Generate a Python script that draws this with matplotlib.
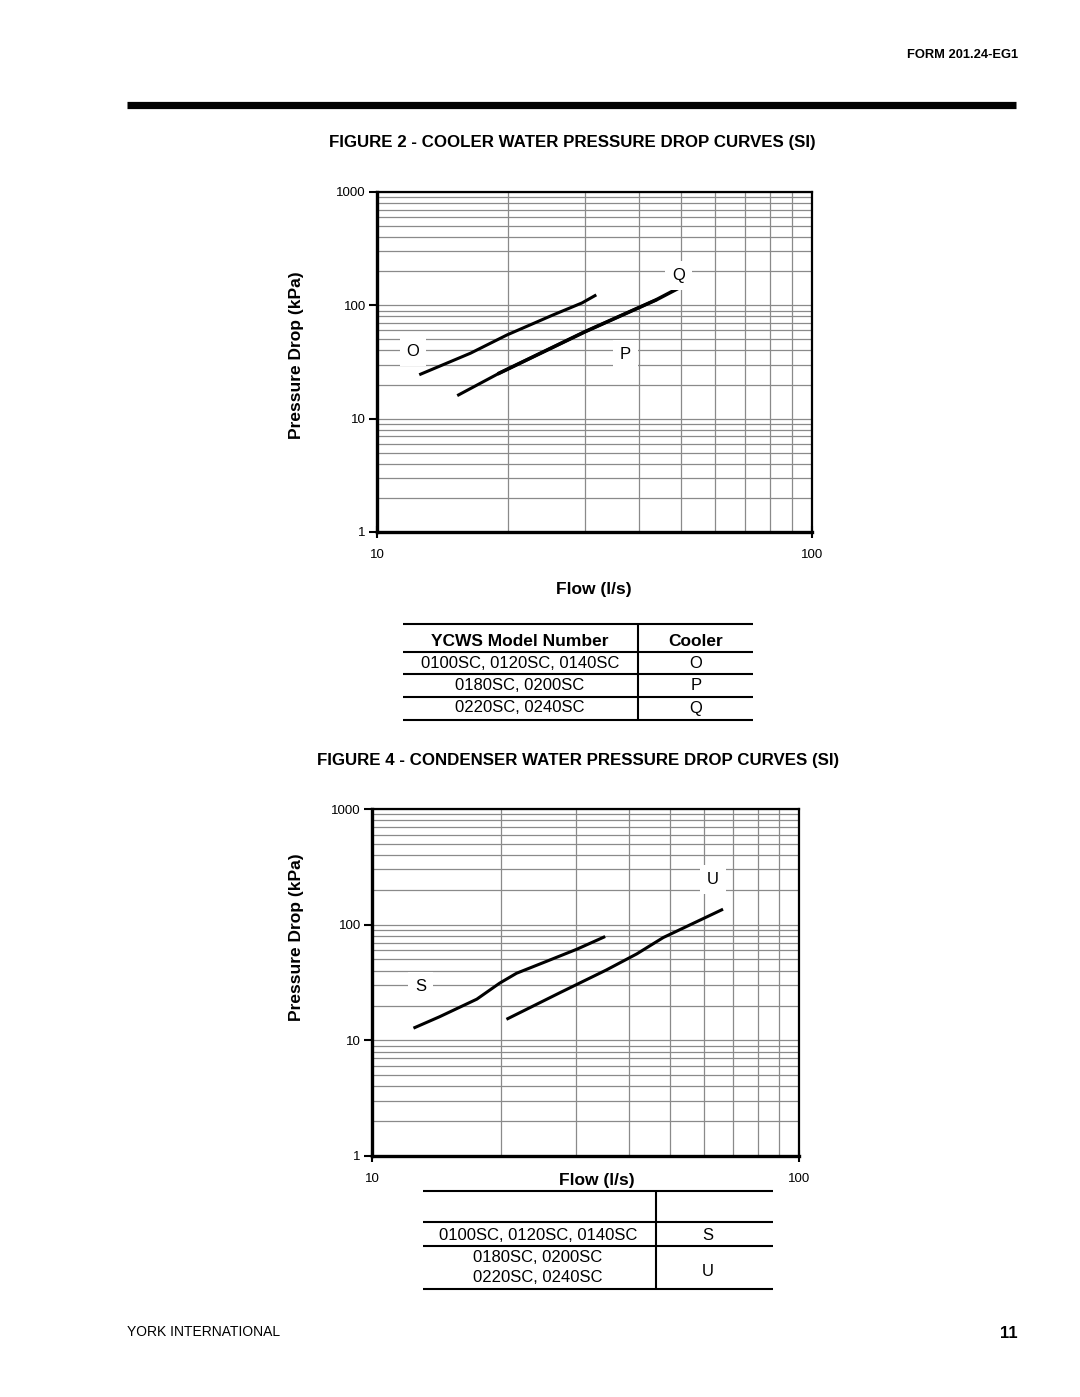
import matplotlib
matplotlib.use("Agg")
import matplotlib.pyplot as plt
from matplotlib.lines import Line2D
from matplotlib.ticker import NullFormatter

plt.rcParams['font.family'] = ['Liberation Sans', 'DejaVu Sans']

W, H = 1080, 1397

# cooler curves (flow l/s, pressure drop kPa)
flow_O = [12.6, 16.4, 19.9, 25.4, 29.6, 31.7]
dp_O = [24.7, 37.8, 54.8, 82.3, 105.0, 121.8]
flow_P = [15.4, 19.1, 30.1, 43.8]
dp_P = [16.2, 25.2, 58.6, 111.6]
flow_Q = [19.1, 30.1, 43.8, 49.3]
dp_Q = [25.2, 58.6, 111.6, 141.5]

# condenser curves
flow_S = [12.6, 14.4, 17.6, 19.9, 21.8, 25.2, 30.2, 34.9]
dp_S = [12.9, 16.0, 22.7, 31.2, 38.0, 47.0, 61.4, 78.0]
flow_U = [20.8, 27.6, 35.4, 41.7, 48.1, 65.9]
dp_U = [15.4, 25.9, 40.6, 55.9, 77.4, 134.3]

models_top = ["0100SC, 0120SC, 0140SC", "0180SC, 0200SC", "0220SC, 0240SC"]
cooler_top = ["O", "P", "Q"]
models_bot = ["0100SC, 0120SC, 0140SC", "0180SC, 0200SC", "0220SC, 0240SC"]
cond_bot = ["S", "U"]


def fx(x):
    return x / W


def fy(y):
    return 1 - y / H


def hline(fig, x0, x1, y, lw=1.5):
    fig.add_artist(Line2D([fx(x0), fx(x1)], [fy(y), fy(y)], color='black', lw=lw,
                          solid_capstyle='butt'))


def vline(fig, x, y0, y1, lw=1.5):
    fig.add_artist(Line2D([fx(x), fx(x)], [fy(y0), fy(y1)], color='black', lw=lw,
                          solid_capstyle='butt'))


def setup_ax(ax):
    ax.set_xscale('log')
    ax.set_yscale('log')
    ax.set_xlim(10, 100)
    ax.set_ylim(1, 1000)
    ax.set_xticks([10, 100])
    ax.set_xticklabels(['10', '100'])
    ax.set_yticks([1, 10, 100, 1000])
    ax.set_yticklabels(['1', '10', '100', '1000'])
    ax.xaxis.set_minor_formatter(NullFormatter())
    ax.yaxis.set_minor_formatter(NullFormatter())
    ax.grid(True, which='both', color='#8a8a8a', lw=0.9)
    ax.tick_params(axis='x', which='major', direction='inout', length=9, width=1.5,
                   labelsize=9.5, pad=8)
    ax.tick_params(axis='y', which='major', direction='out', length=6, width=1.5,
                   labelsize=9.5, pad=2)
    ax.tick_params(which='minor', length=0)
    for s in ['top', 'right']:
        ax.spines[s].set_linewidth(1.6)
    for s in ['left', 'bottom']:
        ax.spines[s].set_linewidth(2.4)
    ax.set_axisbelow(True)


def label(ax, x, y, t):
    ax.text(x, y, t, fontsize=12, ha='center', va='center',
            bbox=dict(facecolor='white', edgecolor='none', pad=5))


fig = plt.figure(figsize=(W / 100, H / 100), dpi=100)

# header
fig.text(fx(1018), fy(55), "FORM 201.24-EG1", fontsize=9.3, fontweight='bold',
         ha='right', va='center')
hline(fig, 127, 1016, 104.5, lw=5.2)

fig.text(fx(572), fy(143), "FIGURE 2 - COOLER WATER PRESSURE DROP CURVES (SI)",
         fontsize=12.2, fontweight='bold', ha='center', va='center')

# cooler chart
ax1 = fig.add_axes([fx(377), fy(532), fx(812) - fx(377), fy(192) - fy(532)])
setup_ax(ax1)
ax1.plot(flow_O, dp_O, color='black', lw=2.2)
ax1.plot(flow_P, dp_P, color='black', lw=2.2)
ax1.plot(flow_Q, dp_Q, color='black', lw=2.6)
label(ax1, 12.1, 39, "O")
label(ax1, 37.2, 37, "P")
label(ax1, 49.3, 185, "Q")
fig.text(fx(296), fy(355), "Pressure Drop (kPa)", fontsize=12.5, fontweight='bold',
         rotation=90, ha='center', va='center')
fig.text(fx(594), fy(590), "Flow (l/s)", fontsize=12.5, fontweight='bold',
         ha='center', va='center')

# cooler table
tl, tr, td = 403, 753, 638
for y in [624, 652, 674, 697, 720]:
    hline(fig, tl, tr, y)
vline(fig, td, 624, 720)
fig.text(fx(520), fy(641), "YCWS Model Number", fontsize=12.5, fontweight='bold',
         ha='center', va='center')
fig.text(fx(696), fy(641), "Cooler", fontsize=12.5, fontweight='bold',
         ha='center', va='center')
for i, (m, c) in enumerate(zip(models_top, cooler_top)):
    yy = 663 + i * 22.5
    fig.text(fx(520), fy(yy), m, fontsize=12, ha='center', va='center')
    fig.text(fx(696), fy(yy), c, fontsize=12, ha='center', va='center')

fig.text(fx(578), fy(761), "FIGURE 4 - CONDENSER WATER PRESSURE DROP CURVES (SI)",
         fontsize=12.2, fontweight='bold', ha='center', va='center')

# condenser chart
ax2 = fig.add_axes([fx(372), fy(1156), fx(799) - fx(372), fy(809) - fy(1156)])
setup_ax(ax2)
ax2.plot(flow_S, dp_S, color='black', lw=2.2)
ax2.plot(flow_U, dp_U, color='black', lw=2.2)
label(ax2, 13.0, 29, "S")
label(ax2, 62.8, 247, "U")
fig.text(fx(296), fy(937), "Pressure Drop (kPa)", fontsize=12.5, fontweight='bold',
         rotation=90, ha='center', va='center')
fig.text(fx(597), fy(1180), "Flow (l/s)", fontsize=12.5, fontweight='bold',
         ha='center', va='center')

# condenser table
bl, br, bd = 423, 773, 656
for y in [1191, 1222, 1246, 1289]:
    hline(fig, bl, br, y)
vline(fig, bd, 1191, 1289)
fig.text(fx(538), fy(1236), models_bot[0], fontsize=12, ha='center', va='center')
fig.text(fx(538), fy(1257), models_bot[1], fontsize=12, ha='center', va='center')
fig.text(fx(538), fy(1277), models_bot[2], fontsize=12, ha='center', va='center')
fig.text(fx(708), fy(1236), cond_bot[0], fontsize=12, ha='center', va='center')
fig.text(fx(708), fy(1271), cond_bot[1], fontsize=12, ha='center', va='center')

# footer
fig.text(fx(127), fy(1332), "YORK INTERNATIONAL", fontsize=10, ha='left', va='center')
fig.text(fx(1018), fy(1333), "11", fontsize=12, fontweight='bold', ha='right', va='center')

fig.savefig("out.png", dpi=100)
